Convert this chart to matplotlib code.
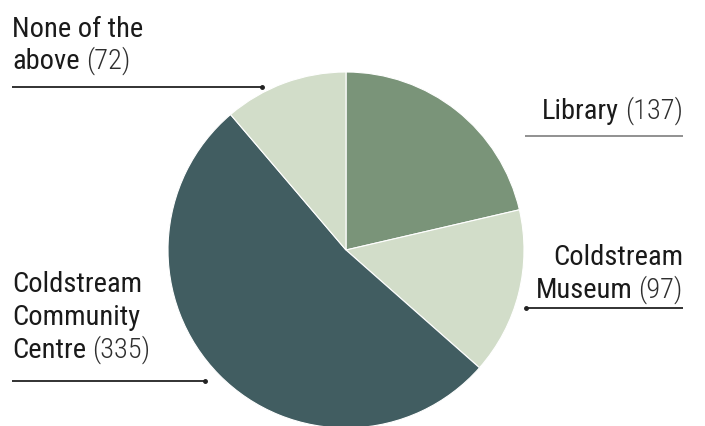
import matplotlib
matplotlib.use("Agg")
import matplotlib.pyplot as plt

# data
categories = ["Library", "Coldstream Museum", "Coldstream Community Centre", "None of the above"]
counts = [137, 97, 335, 72]
label_lines = [["Library"], ["Coldstream", "Museum"], ["Coldstream", "Community", "Centre"], ["None of the", "above"]]
colors = ["#7a9479", "#d2ddc9", "#415d61", "#d2ddc9"]

W, H = 705, 427
FONT = "Roboto Condensed"
FS = 20.5  # points

fig = plt.figure(figsize=(W / 100, H / 100), dpi=100)
ax = fig.add_axes([0, 0, 1, 1])


def Y(y):
    # pixel row (top down) -> data y
    return H - y


ax.pie(
    counts,
    colors=colors,
    startangle=90,
    counterclock=False,
    center=(346, Y(251)),
    radius=178,
    wedgeprops=dict(edgecolor="white", linewidth=0.8),
    frame=True,
)
ax.set_xlim(0, W)
ax.set_ylim(0, H)
ax.set_aspect("equal")
ax.axis("off")

# label placement: (anchor x, first baseline, line step, side)
placements = [
    (683, 119, 33, "right"),
    (683, 265, 33, "right"),
    (12, 292, 33, "left"),
    (12, 37, 32, "left"),
]
# leader lines: (x0, x1, y, dot x, colour)
leaders = [
    (525, 683, 137, None, "#888888"),
    (525, 683, 309, 526, "#222222"),
    (12, 205, 382, 205, "#222222"),
    (12, 262, 88, 262, "#222222"),
]

renderer = fig.canvas.get_renderer()
gap = 6

for lines, cnt, (x, y0, step, side) in zip(label_lines, counts, placements):
    for i, line in enumerate(lines):
        y = Y(y0 + i * step)
        last = i == len(lines) - 1
        if not last:
            ax.text(x, y, line, ha=side, va="baseline", family=FONT, fontsize=FS, color="#1a1a1a")
            continue
        if side == "left":
            t = ax.text(x, y, line, ha="left", va="baseline", family=FONT, fontsize=FS, color="#1a1a1a")
            w = t.get_window_extent(renderer).width
            ax.text(x + w + gap, y, f"({cnt})", ha="left", va="baseline", family=FONT,
                    fontweight="light", fontsize=FS, color="#2e2e2e")
        else:
            v = ax.text(x, y, f"({cnt})", ha="right", va="baseline", family=FONT,
                        fontweight="light", fontsize=FS, color="#2e2e2e")
            w = v.get_window_extent(renderer).width
            ax.text(x - w - gap, y, line, ha="right", va="baseline", family=FONT, fontsize=FS, color="#1a1a1a")

for x0, x1, y, dot, c in leaders:
    ax.plot([x0, x1], [Y(y), Y(y)], color=c, lw=1.3, solid_capstyle="butt")
    if dot is not None:
        ax.plot([dot], [Y(y)], "o", color=c, ms=2.5)

fig.savefig("out.png", dpi=100)
